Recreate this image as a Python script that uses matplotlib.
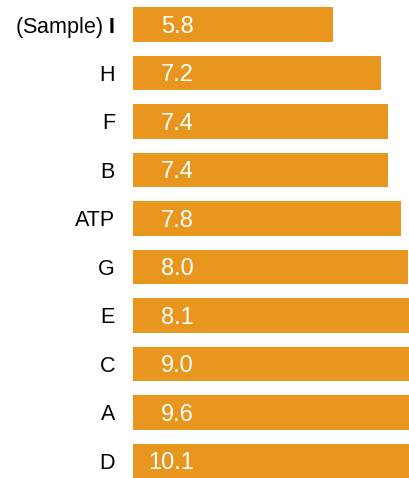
import matplotlib
matplotlib.use("Agg")
import matplotlib.pyplot as plt

labels = ["(Sample) $\\mathbf{I}$", "H", "F", "B", "ATP", "G", "E", "C", "A", "D"]
values = [5.8, 7.2, 7.4, 7.4, 7.8, 8.0, 8.1, 9.0, 9.6, 10.1]

bar_color = "#E8961E"

plt.rcParams["font.family"] = ["Liberation Sans", "DejaVu Sans"]
plt.rcParams["mathtext.fontset"] = "custom"
plt.rcParams["mathtext.bf"] = "Liberation Sans:bold"

fig = plt.figure(figsize=(4.10, 4.78), dpi=100)
ax = fig.add_axes([133 / 410, 0, 277 / 410, 1])

pos = list(range(len(labels)))
ax.barh(pos, values, height=0.72, color=bar_color)

for p, v in zip(pos, values):
    ax.text(1.77, p, f"{v:.1f}", color="white", fontsize=17,
            ha="right", va="center_baseline")

ax.set_xlim(0, 277 / 34.4)
ax.set_ylim(9 + 17 / 48.5, -24.5 / 48.5)
ax.set_yticks(pos)
ax.set_yticklabels(labels, fontsize=15.5)
ax.tick_params(axis="y", length=0, pad=13)
ax.set_xticks([])
for s in ax.spines.values():
    s.set_visible(False)

fig.savefig("out.png", dpi=100)
